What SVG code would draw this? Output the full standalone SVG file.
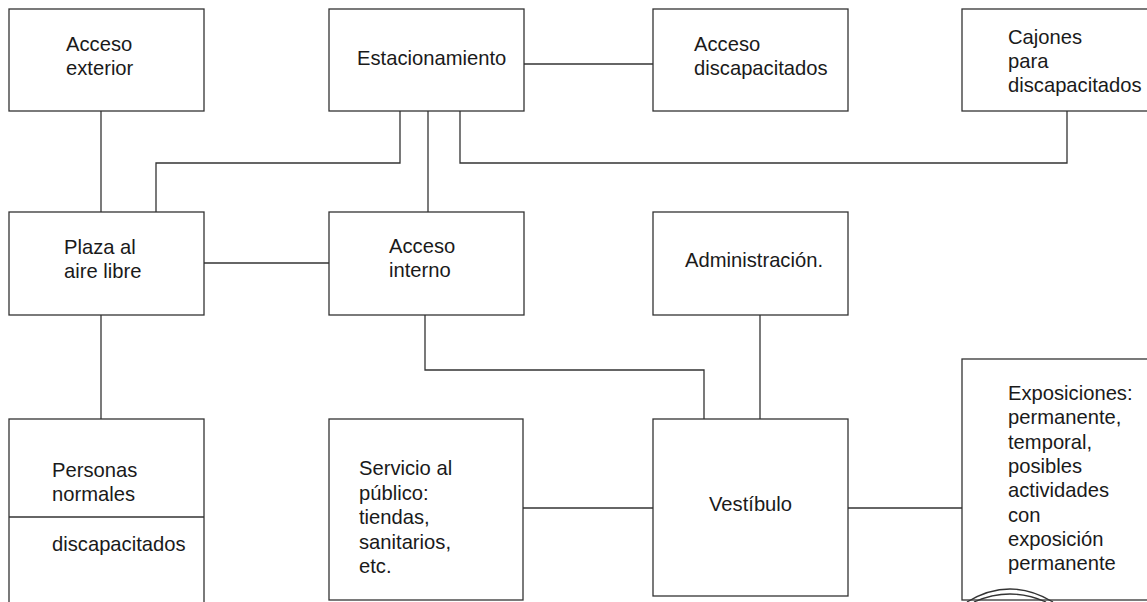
<svg xmlns="http://www.w3.org/2000/svg" width="1147" height="602" viewBox="0 0 1147 602">
<style>
.box{fill:#fff;stroke:#333;stroke-width:1.3}
.ln{fill:none;stroke:#333;stroke-width:1.3}
text{font-family:"Liberation Sans",Arial,sans-serif;font-size:20.2px;fill:#1a1a1a}
</style>
<rect width="1147" height="602" fill="#fff"/>
<g id="connectors">
<path class="ln" d="M101 111V212"/>
<path class="ln" d="M400 111V163H156V212"/>
<path class="ln" d="M428 111V212"/>
<path class="ln" d="M460 111V163H1067V111"/>
<path class="ln" d="M524 64H653"/>
<path class="ln" d="M204 263H329"/>
<path class="ln" d="M101 315V419"/>
<path class="ln" d="M425 315V370H704V419"/>
<path class="ln" d="M760 315V419"/>
<path class="ln" d="M523 508H653"/>
<path class="ln" d="M848 508H962"/>
</g>
<g id="acceso-exterior"><rect class="box" x="9" y="9" width="195" height="102"/><text x="66" y="51">Acceso</text><text x="66" y="75">exterior</text></g>
<g id="estacionamiento"><rect class="box" x="329" y="9" width="195" height="102"/><text x="357" y="65">Estacionamiento</text></g>
<g id="acceso-discapacitados"><rect class="box" x="653" y="9" width="195" height="102"/><text x="694" y="51">Acceso</text><text x="694" y="75">discapacitados</text></g>
<g id="cajones"><rect class="box" x="962" y="9" width="200" height="102"/><text x="1008" y="44">Cajones</text><text x="1008" y="68">para</text><text x="1008" y="92">discapacitados</text></g>
<g id="plaza"><rect class="box" x="9" y="212" width="195" height="103"/><text x="64" y="254">Plaza al</text><text x="64" y="278">aire libre</text></g>
<g id="acceso-interno"><rect class="box" x="329" y="212" width="195" height="103"/><text x="389" y="253">Acceso</text><text x="389" y="277">interno</text></g>
<g id="administracion"><rect class="box" x="653" y="212" width="195" height="103"/><text x="685" y="267">Administración.</text></g>
<g id="personas"><rect class="box" x="9" y="419" width="195" height="200"/><line class="ln" x1="9" y1="517" x2="204" y2="517"/><text x="52" y="477">Personas</text><text x="52" y="501">normales</text><text x="52" y="551">discapacitados</text></g>
<g id="servicio"><rect class="box" x="329" y="419" width="194" height="181"/><text x="359" y="475">Servicio al</text><text x="359" y="499.5">público:</text><text x="359" y="524">tiendas,</text><text x="359" y="548.5">sanitarios,</text><text x="359" y="573">etc.</text></g>
<g id="vestibulo"><rect class="box" x="653" y="419" width="195" height="177"/><text x="709" y="511">Vestíbulo</text></g>
<g id="exposiciones"><rect class="box" x="962" y="359" width="200" height="241"/><text x="1008" y="400">Exposiciones:</text><text x="1008" y="424">permanente,</text><text x="1008" y="448.5">temporal,</text><text x="1008" y="473">posibles</text><text x="1008" y="497">actividades</text><text x="1008" y="521.5">con</text><text x="1008" y="546">exposición</text><text x="1008" y="570">permanente</text>
<path class="ln" d="M967 602Q1010 576 1053 602"/><path class="ln" d="M974 602Q1010 586 1046 602"/></g>
</svg>
